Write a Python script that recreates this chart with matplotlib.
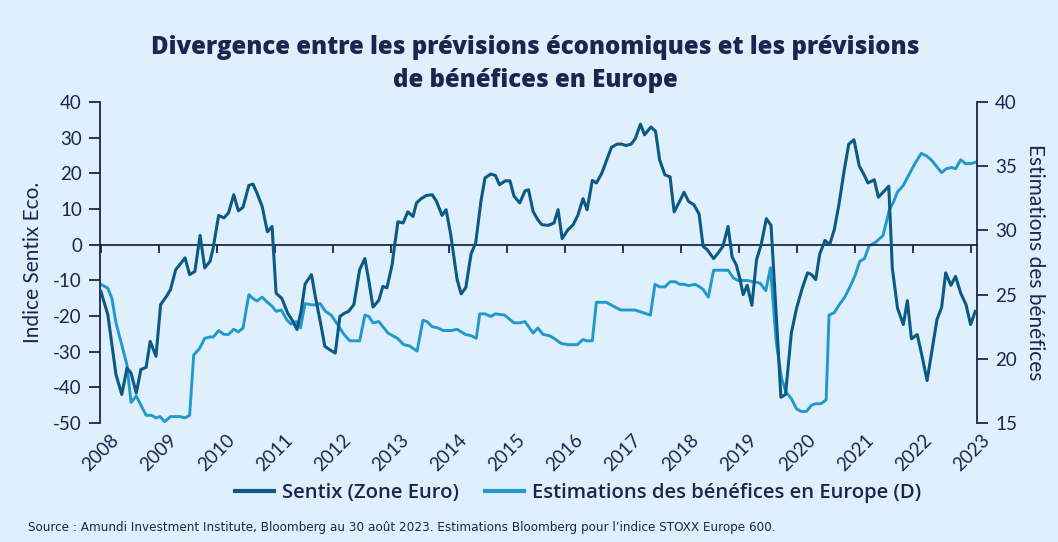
import matplotlib
matplotlib.use("Agg")
import matplotlib.pyplot as plt
from matplotlib.lines import Line2D

# ---------------- data ----------------
sentix_dates = [2008.00, 2008.12, 2008.26, 2008.36, 2008.45, 2008.52, 2008.61, 2008.69, 2008.78, 2008.85,
                2008.95, 2009.03, 2009.13, 2009.20, 2009.29, 2009.37, 2009.45, 2009.53, 2009.62, 2009.71,
                2009.79, 2009.88, 2009.93, 2010.03, 2010.12, 2010.20, 2010.29, 2010.37, 2010.45, 2010.55,
                2010.62, 2010.69, 2010.78, 2010.87, 2010.95, 2011.02, 2011.12, 2011.22, 2011.31, 2011.38,
                2011.45, 2011.52, 2011.63, 2011.69, 2011.79, 2011.86, 2011.94, 2012.04, 2012.12, 2012.20,
                2012.27, 2012.36, 2012.46, 2012.55, 2012.62, 2012.69, 2012.79, 2012.86, 2012.93, 2013.02,
                2013.06, 2013.12, 2013.21, 2013.29, 2013.38, 2013.44, 2013.52, 2013.61, 2013.71, 2013.78,
                2013.88, 2013.95, 2014.03, 2014.14, 2014.21, 2014.29, 2014.38, 2014.46, 2014.55, 2014.62,
                2014.72, 2014.80, 2014.87, 2014.97, 2015.05, 2015.12, 2015.22, 2015.31, 2015.37, 2015.45,
                2015.53, 2015.60, 2015.71, 2015.81, 2015.88, 2015.95, 2016.05, 2016.14, 2016.22, 2016.31,
                2016.38, 2016.47, 2016.54, 2016.63, 2016.71, 2016.80, 2016.90, 2016.97, 2017.05, 2017.14,
                2017.21, 2017.30, 2017.37, 2017.48, 2017.56, 2017.63, 2017.72, 2017.81, 2017.88, 2017.98,
                2018.05, 2018.13, 2018.22, 2018.31, 2018.38, 2018.45, 2018.56, 2018.64, 2018.72, 2018.81,
                2018.88, 2018.95, 2019.01, 2019.07, 2019.14, 2019.22, 2019.30, 2019.38, 2019.47, 2019.55,
                2019.64, 2019.72, 2019.80, 2019.90, 2019.99, 2020.09, 2020.18, 2020.25, 2020.32, 2020.39,
                2020.48, 2020.56, 2020.64, 2020.72, 2020.81, 2020.89, 2020.98, 2021.07, 2021.16, 2021.22,
                2021.33, 2021.40, 2021.50, 2021.58, 2021.64, 2021.73, 2021.83, 2021.90, 2021.97, 2022.07,
                2022.16, 2022.24, 2022.33, 2022.41, 2022.49, 2022.56, 2022.65, 2022.73, 2022.82, 2022.91,
                2022.99, 2023.07]
sentix_values = [-13.1, -19.6, -36.4, -42.0, -34.6, -36.0, -41.6, -35.0, -34.4, -27.1,
                 -31.3, -16.8, -14.5, -12.6, -7.0, -5.4, -3.7, -8.4, -7.5, 2.6,
                 -6.5, -4.7, -1.4, 8.2, 7.5, 8.9, 14.0, 9.5, 10.5, 16.6,
                 17.0, 14.5, 10.7, 3.6, 5.1, -13.6, -15.1, -19.2, -21.5, -23.8,
                 -18.7, -11.0, -8.4, -14.0, -22.3, -28.5, -29.4, -30.4, -20.1, -19.2,
                 -18.7, -16.8, -7.0, -3.9, -10.3, -17.5, -15.6, -11.7, -12.1, -5.6,
                 -0.5, 6.4, 6.1, 9.2, 7.9, 11.7, 12.9, 13.8, 14.0, 12.3,
                 8.2, 9.8, 2.8, -9.8, -13.8, -12.0, -2.6, 0.5, 12.1, 18.7,
                 19.8, 19.4, 16.8, 17.9, 17.9, 13.6, 11.7, 15.1, 15.4, 9.3,
                 7.0, 5.6, 5.4, 6.1, 9.8, 1.7, 4.2, 5.6, 8.2, 12.9,
                 9.8, 18.0, 17.3, 19.9, 23.4, 27.3, 28.2, 28.2, 27.8, 28.2,
                 29.7, 33.8, 30.8, 33.0, 31.8, 23.8, 19.6, 19.0, 9.2, 12.3,
                 14.7, 12.1, 11.2, 8.6, -0.5, -1.4, -3.9, -2.3, -0.5, 5.1,
                 -3.5, -5.6, -9.3, -14.0, -11.4, -17.0, -4.2, 0.0, 7.3, 5.4,
                 -19.6, -42.8, -42.0, -24.8, -17.8, -12.1, -7.9, -8.4, -9.8, -2.6,
                 1.2, 0.0, 4.2, 11.2, 20.7, 28.2, 29.4, 22.1, 19.4, 17.3,
                 18.2, 13.3, 15.0, 16.4, -6.5, -17.8, -22.4, -15.7, -26.4, -25.2,
                 -31.8, -38.1, -29.0, -21.0, -17.6, -7.9, -11.4, -8.9, -13.6, -16.8,
                 -22.4, -18.7]

est_dates = [2008.00, 2008.12, 2008.19, 2008.26, 2008.36, 2008.45, 2008.52, 2008.61, 2008.69, 2008.78,
             2008.87, 2008.95, 2009.02, 2009.10, 2009.20, 2009.36, 2009.45, 2009.53, 2009.60, 2009.70,
             2009.79, 2009.88, 2009.94, 2010.03, 2010.12, 2010.20, 2010.29, 2010.37, 2010.45, 2010.55,
             2010.62, 2010.69, 2010.78, 2010.87, 2010.95, 2011.02, 2011.11, 2011.21, 2011.28, 2011.37,
             2011.44, 2011.52, 2011.63, 2011.69, 2011.78, 2011.87, 2011.97, 2012.09, 2012.19, 2012.29,
             2012.46, 2012.55, 2012.62, 2012.69, 2012.79, 2012.95, 2013.11, 2013.22, 2013.32, 2013.45,
             2013.55, 2013.62, 2013.71, 2013.81, 2013.90, 2014.04, 2014.14, 2014.28, 2014.38, 2014.47,
             2014.53, 2014.62, 2014.72, 2014.80, 2014.96, 2015.12, 2015.22, 2015.31, 2015.45, 2015.53,
             2015.62, 2015.73, 2015.81, 2015.93, 2016.05, 2016.21, 2016.31, 2016.38, 2016.47, 2016.54,
             2016.71, 2016.83, 2016.96, 2017.20, 2017.34, 2017.47, 2017.55, 2017.63, 2017.72, 2017.81,
             2017.90, 2017.98, 2018.05, 2018.13, 2018.24, 2018.32, 2018.38, 2018.47, 2018.56, 2018.72,
             2018.81, 2018.90, 2018.98, 2019.14, 2019.24, 2019.36, 2019.46, 2019.54, 2019.64, 2019.73,
             2019.81, 2019.90, 2019.99, 2020.07, 2020.16, 2020.25, 2020.32, 2020.41, 2020.50, 2020.55,
             2020.64, 2020.74, 2020.82, 2020.91, 2021.00, 2021.08, 2021.16, 2021.24, 2021.36, 2021.48,
             2021.59, 2021.66, 2021.73, 2021.83, 2021.91, 2022.03, 2022.14, 2022.23, 2022.31, 2022.40,
             2022.49, 2022.57, 2022.66, 2022.73, 2022.82, 2022.90, 2022.99, 2023.07]
est_values = [25.8, 25.5, 24.7, 22.8, 21.1, 19.5, 16.6, 17.1, 16.4, 15.6,
              15.6, 15.4, 15.5, 15.1, 15.5, 15.5, 15.4, 15.6, 20.3, 20.8,
              21.6, 21.7, 21.7, 22.2, 21.9, 21.9, 22.3, 22.1, 22.4, 25.0,
              24.7, 24.5, 24.8, 24.4, 24.1, 23.7, 23.8, 23.0, 22.7, 22.9,
              22.4, 24.3, 24.2, 24.2, 24.3, 23.7, 23.4, 22.6, 21.9, 21.4,
              21.4, 23.4, 23.3, 22.8, 22.9, 22.0, 21.6, 21.1, 21.0, 20.6,
              23.0, 22.9, 22.5, 22.4, 22.2, 22.2, 22.3, 21.9, 21.8, 21.6,
              23.5, 23.5, 23.3, 23.5, 23.4, 22.8, 22.8, 22.9, 22.0, 22.4,
              21.9, 21.8, 21.6, 21.2, 21.1, 21.1, 21.5, 21.4, 21.4, 24.4,
              24.4, 24.1, 23.8, 23.8, 23.6, 23.4, 25.8, 25.6, 25.6, 26.0,
              26.0, 25.8, 25.8, 25.7, 25.8, 25.6, 25.4, 24.8, 26.9, 26.9,
              26.9, 26.3, 26.1, 26.1, 26.0, 25.9, 25.3, 27.1, 21.3, 18.5,
              17.4, 16.9, 16.1, 15.9, 15.9, 16.4, 16.5, 16.5, 16.8, 23.4,
              23.6, 24.3, 24.8, 25.6, 26.5, 27.6, 27.8, 28.8, 29.1, 29.6,
              31.6, 32.2, 33.0, 33.5, 34.2, 35.2, 36.0, 35.8, 35.5, 35.0,
              34.5, 34.8, 34.9, 34.8, 35.5, 35.2, 35.2, 35.3]

year_ticks = list(range(2008, 2024))
left_ticks = [40, 30, 20, 10, 0, -10, -20, -30, -40, -50]
right_ticks = [40, 35, 30, 25, 20, 15]

title = "Divergence entre les prévisions économiques et les prévisions\nde bénéfices en Europe"
left_label = "Indice Sentix Eco."
right_label = "Estimations des bénéfices"
sentix_name = "Sentix (Zone Euro)"
est_name = "Estimations des bénéfices en Europe (D)"
source = ("Source : Amundi Investment Institute, Bloomberg au 30 août 2023. "
          "Estimations Bloomberg pour l\u2019indice STOXX Europe 600.")

# ---------------- style ----------------
BG = "#DFF0FC"
NAVY = "#1B2550"
DARK = "#0B5A85"
LIGHT = "#2199CC"
FONT = ["Lato", "DejaVu Sans"]
WIDE = ["Open Sans", "DejaVu Sans"]

plt.rcParams['font.family'] = FONT

fig = plt.figure(figsize=(10.58, 5.42), dpi=100, facecolor=BG)
ax = fig.add_axes([100 / 1058, 1 - 423 / 542, 877 / 1058, 321 / 542])
ax.set_facecolor(BG)
ax2 = ax.twinx()

ax.plot(sentix_dates, sentix_values, color=DARK, lw=2.2, zorder=3)
ax2.plot(est_dates, est_values, color=LIGHT, lw=2.1, zorder=2)
ax.set_zorder(ax2.get_zorder() + 1)
ax.patch.set_visible(False)
ax2.patch.set_visible(True)
ax2.patch.set_facecolor(BG)

ax.set_xlim(2007.985, 2023.10)
ax.set_ylim(-50, 40)
ax2.set_ylim(15, 40)

# spines
for a in (ax, ax2):
    a.spines['top'].set_visible(False)
ax.spines['right'].set_visible(False)
ax2.spines['left'].set_visible(False)
ax2.spines['bottom'].set_visible(False)
ax.spines['left'].set_color(NAVY)
ax.spines['left'].set_linewidth(1.3)
ax2.spines['right'].set_color(NAVY)
ax2.spines['right'].set_linewidth(1.3)
ax.spines['bottom'].set_position(('data', 0))
ax.spines['bottom'].set_color(NAVY)
ax.spines['bottom'].set_linewidth(1.3)

ax.set_yticks(left_ticks)
ax.set_yticklabels([str(v) for v in left_ticks])
ax2.set_yticks(right_ticks)
ax2.set_yticklabels([str(v) for v in right_ticks])
ax.tick_params(axis='y', direction='out', length=8, width=1.3, color=NAVY,
               labelcolor=NAVY, labelsize=13.5, pad=5)
ax2.tick_params(axis='y', direction='out', length=8, width=1.3, color=NAVY,
                labelcolor=NAVY, labelsize=13.5, pad=5)

ax.set_xticks(year_ticks)
ax.tick_params(axis='x', direction='out', length=6, width=1.3, color=NAVY,
               labelbottom=False)

sec = ax.secondary_xaxis('bottom')
sec.set_xticks(year_ticks)
sec.set_xticklabels([str(y) for y in year_ticks], rotation=45, ha='center', va='top')
sec.tick_params(axis='x', length=0, labelsize=13.5, labelcolor=NAVY, pad=6)
sec.spines['bottom'].set_visible(False)

ax.set_ylabel(left_label, fontsize=15, color=NAVY, labelpad=7)
ax2.set_ylabel(right_label, fontsize=15, color=NAVY, rotation=270, labelpad=20)

fig.text(535 / 1058, 1 - 64 / 542, title, ha='center', va='center', fontsize=17.3,
         fontweight=800, color=NAVY, linespacing=1.4, family=WIDE)

handles = [Line2D([], [], color=DARK, lw=3), Line2D([], [], color=LIGHT, lw=3)]
leg = fig.legend(handles, [sentix_name, est_name], loc='center',
                 bbox_to_anchor=(578 / 1058, 1 - 493 / 542), ncol=2, frameon=False,
                 handlelength=1.9, handletextpad=0.4, columnspacing=1.3,
                 prop={'size': 14.6, 'weight': 'semibold', 'family': WIDE})
for t in leg.get_texts():
    t.set_color(NAVY)

fig.text(28 / 1058, 1 - 528 / 542, source, ha='left', va='center', fontsize=9.6,
         color=NAVY, family=['DejaVu Sans'], fontstretch='condensed')

fig.savefig("out.png", dpi=100, facecolor=BG)
